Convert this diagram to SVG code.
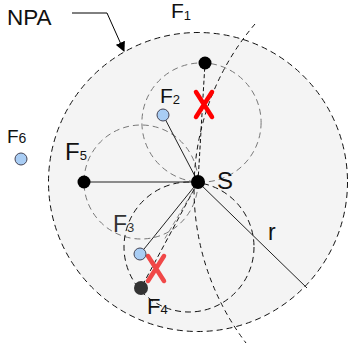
<svg xmlns="http://www.w3.org/2000/svg" width="351" height="347" viewBox="0 0 351 347">
<style>
text{font-family:"Liberation Sans",Arial,sans-serif;fill:#111}
.sub{font-size:13px}
.zone{fill:#000;fill-opacity:0.035}
.gd{fill:none;stroke:#777;stroke-width:1;stroke-dasharray:6,4}
.bd{fill:none;stroke:#111;stroke-width:1;stroke-dasharray:6,4}
.sl{stroke:#222;stroke-width:1;fill:none}
.blue{fill:#a9cdf4;stroke:#445;stroke-width:1}
.blk{fill:#000}
.x{stroke-width:4.5;stroke-linecap:round;fill:none}
</style>
<defs>
<marker id="ah" markerWidth="10" markerHeight="10" refX="9" refY="5" orient="auto" markerUnits="userSpaceOnUse" viewBox="0 0 10 10">
<path d="M0,0 L10,5 L0,10 Z" fill="#000"/>
</marker>
</defs>
<rect width="351" height="347" fill="#fff"/>
<g id="npa-area">
<circle cx="198" cy="182" r="149.5" fill="#f4f4f4" stroke="#111" stroke-width="1" stroke-dasharray="6,4"/>
</g>
<g id="zones">
<circle class="zone gd" cx="201.5" cy="122.5" r="59.6"/>
<circle class="zone gd" cx="141" cy="182" r="57"/>
<circle class="zone bd" cx="189" cy="247" r="65"/>
</g>
<g id="connectors">
<line class="sl" x1="198" y1="182" x2="84" y2="182"/>
<line class="sl" x1="198" y1="182" x2="163" y2="115"/>
<line class="sl" x1="198" y1="182" x2="307" y2="288"/>
<line class="sl" x1="198" y1="182" x2="140" y2="254" stroke="#444"/>
<line x1="198" y1="182" x2="205" y2="63" stroke="#111" stroke-width="1" stroke-dasharray="4,2.5"/>
<line x1="198" y1="182" x2="141" y2="288" stroke="#111" stroke-width="1" stroke-dasharray="5,3"/>
<line x1="196" y1="186" x2="164" y2="240" stroke="#888" stroke-width="1" stroke-dasharray="5,3"/>
<path d="M255,24 A254,254 0 0 0 246,343" fill="none" stroke="#111" stroke-width="1" stroke-dasharray="5,4"/>
<polyline points="72,13 107,13 124,51" fill="none" stroke="#000" stroke-width="1" marker-end="url(#ah)"/>
</g>
<g id="x-marks">
<path class="x" stroke="#ff0000" d="M196,92 L212,117 M212,92 L196,117"/>
<path class="x" stroke="#f04848" d="M148,256 L164,281 M164,256 L148,281"/>
</g>
<g id="node-S"><circle class="blk" cx="198" cy="182" r="7"/><text x="217" y="189" font-size="24">S</text></g>
<g id="node-F1"><circle class="blk" cx="205" cy="63" r="6.5"/><text x="171" y="18" font-size="21">F<tspan class="sub" dy="2">1</tspan></text></g>
<g id="node-F2"><circle class="blue" cx="163" cy="115" r="6"/><text x="160" y="103" font-size="21">F<tspan class="sub" dy="1">2</tspan></text></g>
<g id="node-F3"><circle class="blue" cx="140" cy="254" r="6"/><text x="113" y="232" font-size="23" style="fill:#333">F<tspan class="sub" dy="0">3</tspan></text></g>
<g id="node-F4"><circle cx="141" cy="288" r="7" fill="#333"/><text x="147" y="314" font-size="22">F<tspan class="sub" dy="0">4</tspan></text></g>
<g id="node-F5"><circle class="blk" cx="84" cy="182" r="6.5"/><text x="65" y="160" font-size="24">F<tspan class="sub" dy="0">5</tspan></text></g>
<g id="node-F6"><circle class="blue" cx="21" cy="159" r="6"/><text x="7" y="143" font-size="19">F<tspan font-size="14" dy="0">6</tspan></text></g>
<g id="label-NPA"><text x="7" y="25" font-size="22.5">NPA</text></g>
<g id="label-r"><text x="268" y="240" font-size="23">r</text></g>
</svg>
